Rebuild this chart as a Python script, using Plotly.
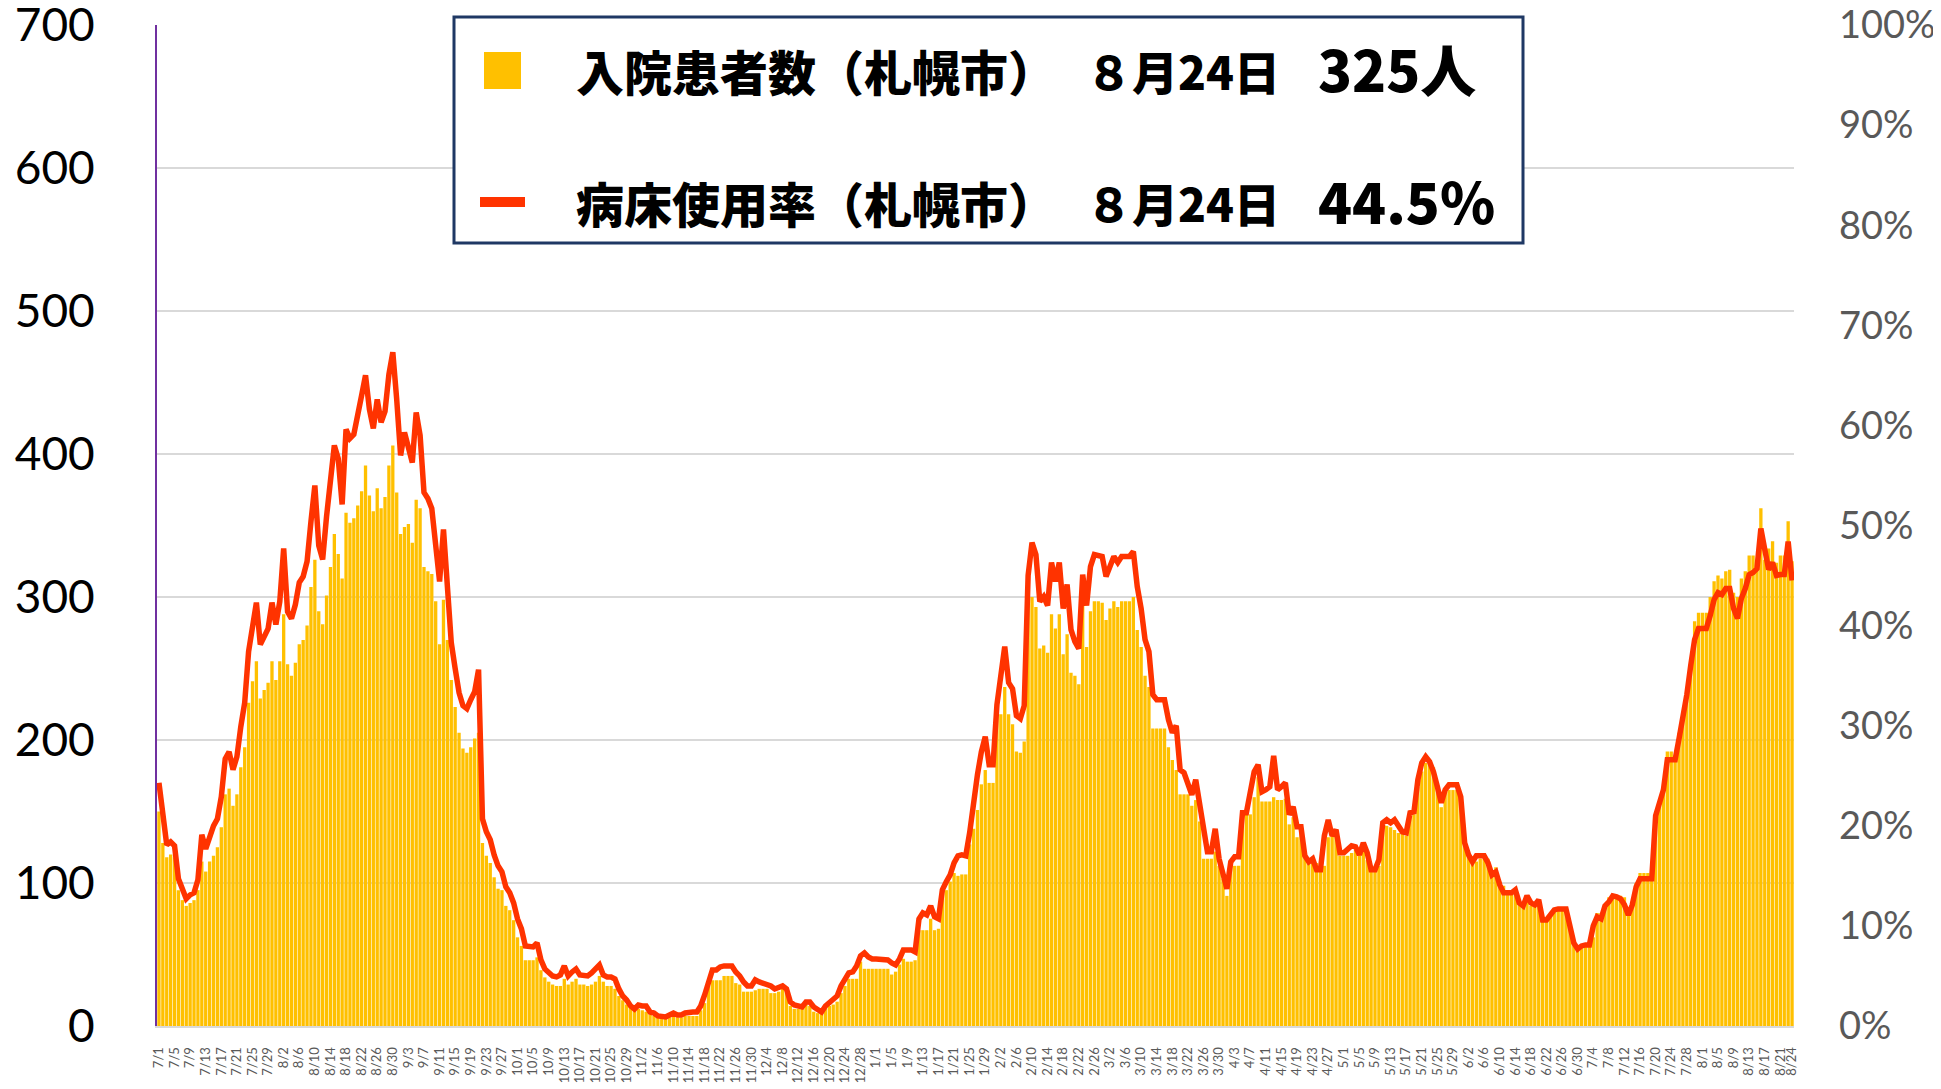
import pandas as pd
import plotly.graph_objects as go

# ---- data -------------------------------------------------------------
dates = pd.date_range("2021-07-01", "2022-08-24", freq="D")

# hospitalized patients (Sapporo), persons
patients = [
    150, 128, 118, 120, 118, 95, 88, 84, 86, 88,
    95, 115, 108, 115, 119, 125, 139, 162, 166, 154,
    162, 181, 195, 226, 241, 255, 229, 235, 240, 255,
    242, 255, 288, 253, 245, 254, 267, 270, 280, 307,
    326, 290, 281, 301, 321, 344, 330, 313, 359, 352,
    355, 364, 374, 392, 371, 360, 376, 362, 370, 392,
    406, 373, 344, 349, 351, 338, 368, 362, 321, 318,
    316, 297, 267, 298, 270, 242, 223, 205, 194, 191,
    195, 201, 205, 128, 119, 114, 104, 96, 95, 84,
    81, 74, 62, 56, 46, 46, 46, 48, 39, 34,
    31, 29, 28, 28, 33, 29, 31, 33, 29, 29,
    28, 29, 31, 35, 31, 28, 28, 26, 21, 18,
    15, 13, 13, 12, 11, 10, 8, 7, 6, 5,
    5, 6, 7, 6, 6, 7, 7, 7, 7, 11,
    16, 28, 32, 32, 32, 35, 35, 35, 30, 29,
    24, 24, 24, 25, 26, 26, 26, 23, 23, 24,
    26, 23, 14, 12, 12, 12, 16, 14, 10, 9,
    9, 12, 14, 15, 17, 23, 28, 33, 33, 33,
    45, 40, 40, 40, 40, 40, 40, 40, 36, 38,
    43, 47, 45, 45, 46, 67, 67, 67, 75, 67,
    68, 89, 95, 101, 107, 105, 106, 106, 127, 138,
    151, 169, 179, 170, 170, 218, 218, 237, 218, 211,
    192, 191, 199, 297, 300, 293, 264, 266, 261, 288,
    278, 288, 260, 274, 247, 245, 239, 297, 265, 290,
    297, 297, 296, 284, 292, 297, 293, 297, 297, 297,
    300, 277, 265, 245, 237, 208, 208, 208, 208, 195,
    186, 179, 162, 162, 162, 154, 158, 143, 117, 117,
    117, 122, 112, 103, 91, 112, 112, 112, 140, 148,
    148, 160, 174, 157, 157, 157, 160, 158, 158, 159,
    141, 146, 132, 139, 120, 114, 114, 114, 109, 112,
    132, 134, 132, 119, 119, 119, 121, 123, 119, 122,
    116, 109, 109, 112, 140, 140, 139, 137, 135, 135,
    133, 147, 148, 167, 178, 184, 185, 181, 170, 153,
    164, 165, 165, 165, 158, 130, 120, 116, 115, 117,
    117, 117, 109, 111, 101, 98, 92, 92, 96, 86,
    84, 89, 84, 84, 87, 73, 73, 77, 81, 82,
    82, 81, 70, 60, 54, 55, 58, 58, 62, 79,
    79, 85, 90, 92, 91, 91, 90, 80, 87, 100,
    107, 107, 107, 107, 150, 155, 162, 192, 192, 186,
    205, 215, 230, 249, 283, 289, 289, 289, 300, 311,
    315, 313, 318, 319, 303, 300, 313, 318, 329, 329,
    321, 362, 326, 334, 339, 324, 329, 329, 353, 325,
]

# bed occupancy rate (Sapporo), percent
occupancy = [
    24.3, 21.3, 18.1, 18.4, 18.0, 14.7, 13.7, 12.7, 13.1, 13.3,
    14.6, 19.1, 17.7, 19.1, 20.0, 20.7, 22.9, 26.7, 27.4, 25.6,
    26.9, 29.9, 32.3, 37.4, 39.9, 42.3, 38.1, 39.0, 39.7, 42.3,
    40.1, 42.4, 47.7, 41.4, 40.7, 42.1, 44.3, 44.9, 46.4, 50.4,
    54.0, 48.0, 46.6, 50.9, 54.4, 58.0, 56.7, 52.1, 59.6, 58.7,
    59.1, 61.4, 63.0, 65.0, 61.6, 59.7, 62.6, 60.3, 61.4, 65.1,
    67.3, 62.6, 57.0, 59.3, 58.0, 56.3, 61.3, 59.0, 53.3, 52.7,
    51.7, 47.9, 44.4, 49.6, 42.9, 38.3, 35.7, 33.3, 32.0, 31.7,
    32.6, 33.4, 35.6, 20.7, 19.4, 18.6, 17.1, 16.0, 15.4, 13.9,
    13.3, 12.3, 10.7, 9.7, 8.0, 7.9, 7.9, 8.3, 6.6, 5.7,
    5.3, 5.0, 4.9, 5.1, 6.0, 5.0, 5.4, 5.7, 5.1, 5.1,
    5.0, 5.3, 5.7, 6.1, 5.1, 4.9, 4.9, 4.7, 3.7, 3.0,
    2.6, 2.0, 1.7, 2.1, 2.0, 2.0, 1.4, 1.3, 1.0, 0.9,
    0.9, 1.1, 1.3, 1.1, 1.1, 1.3, 1.4, 1.4, 1.4, 2.0,
    3.1, 4.4, 5.6, 5.6, 5.9, 6.0, 6.0, 6.0, 5.4, 5.0,
    4.4, 4.0, 4.0, 4.6, 4.4, 4.3, 4.1, 4.0, 3.7, 3.9,
    4.0, 3.7, 2.4, 2.1, 2.0, 1.9, 2.4, 2.4, 1.9, 1.6,
    1.4, 2.0, 2.3, 2.6, 3.0, 4.0, 4.6, 5.3, 5.4, 6.0,
    7.0, 7.3, 6.9, 6.7, 6.7, 6.7, 6.7, 6.6, 6.3, 6.1,
    6.7, 7.6, 7.6, 7.6, 7.4, 10.7, 11.3, 11.1, 12.0, 10.9,
    10.7, 13.6, 14.4, 15.1, 16.3, 17.0, 17.1, 17.0, 19.3, 22.6,
    25.1, 27.4, 28.9, 26.1, 26.1, 32.1, 35.3, 37.9, 34.3, 33.7,
    31.0, 30.7, 32.0, 45.0, 48.3, 47.1, 42.4, 42.9, 42.0, 46.3,
    44.4, 46.3, 41.7, 44.1, 39.6, 38.4, 37.7, 45.1, 42.0, 45.9,
    47.1, 47.0, 46.9, 44.9, 46.1, 46.9, 46.3, 46.9, 46.9, 46.9,
    47.4, 43.9, 41.7, 38.6, 37.4, 33.1, 32.6, 32.6, 32.6, 30.6,
    29.3, 30.0, 25.6, 25.3, 24.0, 23.1, 24.6, 22.0, 20.1, 17.4,
    17.4, 19.7, 16.7, 15.4, 13.7, 16.4, 16.9, 16.9, 21.3, 21.3,
    23.3, 25.4, 26.1, 23.4, 23.6, 23.9, 27.0, 23.6, 23.9, 24.3,
    21.1, 21.9, 19.9, 19.9, 17.0, 16.4, 16.7, 15.6, 15.6, 19.0,
    20.6, 19.0, 19.6, 17.3, 17.3, 17.7, 18.0, 17.9, 17.1, 18.3,
    17.3, 15.6, 15.6, 16.6, 20.3, 20.6, 20.3, 20.6, 20.0, 19.4,
    19.3, 21.3, 21.4, 24.6, 26.3, 26.9, 26.4, 25.4, 23.9, 22.3,
    23.6, 24.1, 24.1, 24.1, 22.9, 18.3, 17.1, 16.4, 17.0, 17.0,
    17.0, 16.3, 15.1, 15.4, 14.1, 13.3, 13.3, 13.3, 13.6, 12.3,
    12.0, 13.0, 12.3, 12.1, 12.6, 10.6, 10.6, 11.1, 11.6, 11.7,
    11.7, 11.7, 10.0, 8.3, 7.7, 8.0, 8.1, 8.1, 10.0, 10.9,
    10.7, 12.0, 12.4, 13.0, 12.9, 12.7, 12.1, 11.1, 12.1, 13.9,
    14.7, 14.7, 14.7, 14.7, 21.0, 22.1, 23.6, 26.6, 26.6, 26.6,
    28.7, 30.6, 33.1, 36.0, 38.6, 39.7, 39.7, 39.7, 41.0, 42.6,
    43.3, 43.1, 43.7, 43.7, 41.7, 40.7, 42.7, 43.7, 45.1, 45.3,
    45.7, 49.7, 47.6, 45.6, 46.3, 45.0, 45.1, 45.1, 48.4, 44.5,
]

legend_rows = [
    ("入院患者数（札幌市）", "８月24日", "325人"),
    ("病床使用率（札幌市）", "８月24日", "44.5%"),
]

# ---- categories / ticks ----------------------------------------------
x_cat = [d.strftime("%Y-%m-%d") for d in dates]
tick_idx = list(range(0, len(dates), 4)) + [len(dates) - 1]
tick_vals = [x_cat[i] for i in tick_idx]
tick_text = [f"{dates[i].month}/{dates[i].day}" for i in tick_idx]

BAR_COLOR = "#FFC000"
LINE_COLOR = "#FF3300"

fig = go.Figure()
fig.add_trace(go.Bar(x=x_cat, y=patients, marker=dict(color=BAR_COLOR, line_width=0),
                     name="入院患者数", yaxis="y"))
fig.add_trace(go.Scatter(x=x_cat, y=occupancy, mode="lines", name="病床使用率",
                         line=dict(color=LINE_COLOR, width=5.5), yaxis="y2"))

# the page body adds an 8px margin; size the figure so it fits the window
OFF = 8
W, H = 1941 - OFF, 1089 - OFF
ML, MR, MT, MB = 157 - OFF, 147, 25 - OFF, 63
PW, PH = W - ML - MR, H - MT - MB


def px(xp):  # window pixel -> paper x
    return (xp - OFF - ML) / PW


def py(yp):  # window pixel -> paper y
    return (H - MB - (yp - OFF)) / PH


fig.update_layout(
    width=W, height=H,
    margin=dict(l=ML, r=MR, t=MT, b=MB, autoexpand=False),
    plot_bgcolor="white", paper_bgcolor="white",
    showlegend=False, bargap=0.15,
    xaxis=dict(type="category", tickmode="array", tickvals=tick_vals, ticktext=tick_text,
               tickangle=-90, tickfont=dict(family="Lato", size=13, color="#595959"),
               showgrid=False, showline=True, linecolor="#D9D9D9", linewidth=2,
               ticks="", ticklabelstandoff=14, range=[-0.5, len(dates) - 0.5],
               automargin=False, ticklabeloverflow="allow"),
    yaxis=dict(range=[0, 700], tickmode="linear", tick0=0, dtick=100,
               tickfont=dict(family="Lato", size=46, color="black"),
               showgrid=True, gridcolor="#D9D9D9", gridwidth=1.5,
               showline=True, linecolor="#7030A0", linewidth=2, zeroline=False,
               ticks="", ticklabelstandoff=51, automargin=False, ticklabeloverflow="allow"),
    yaxis2=dict(overlaying="y", side="right", range=[0, 100], tickmode="linear", tick0=0,
                dtick=10, ticksuffix="%",
                tickfont=dict(family="Lato", size=38, color="#595959"),
                showgrid=False, zeroline=False, showline=False, ticks="",
                ticklabelstandoff=44, automargin=False, ticklabeloverflow="allow"),
)

# legend box
shapes = [
    dict(type="rect", xref="paper", yref="paper", x0=px(454), x1=px(1523), y0=py(243), y1=py(17),
         line=dict(color="#1F3864", width=3), fillcolor="white", layer="above"),
    dict(type="rect", xref="paper", yref="paper", x0=px(484), x1=px(521), y0=py(89), y1=py(52),
         line=dict(width=0), fillcolor=BAR_COLOR, layer="above"),
    dict(type="rect", xref="paper", yref="paper", x0=px(480), x1=px(525), y0=py(207), y1=py(197),
         line=dict(width=0), fillcolor=LINE_COLOR, layer="above"),
]
fig.update_layout(shapes=shapes)

row_y = [70, 202]
for (label, date_txt, value_txt), yp in zip(legend_rows, row_y):
    fig.add_annotation(xref="paper", yref="paper", x=px(574), y=py(yp), text=label,
                       showarrow=False, xanchor="left", yanchor="middle",
                       font=dict(family="Noto Sans CJK JP", size=48, color="black", weight=900))
    fig.add_annotation(xref="paper", yref="paper", x=px(1084), y=py(yp), text=date_txt,
                       showarrow=False, xanchor="left", yanchor="middle",
                       font=dict(family="Noto Sans CJK JP", size=46, color="black", weight=900))
    fig.add_annotation(xref="paper", yref="paper", x=px(1316), y=py(yp - 2), text=value_txt,
                       showarrow=False, xanchor="left", yanchor="middle",
                       font=dict(family="Noto Sans CJK JP", size=56, color="black", weight=900))

fig.write_html("out.html")
